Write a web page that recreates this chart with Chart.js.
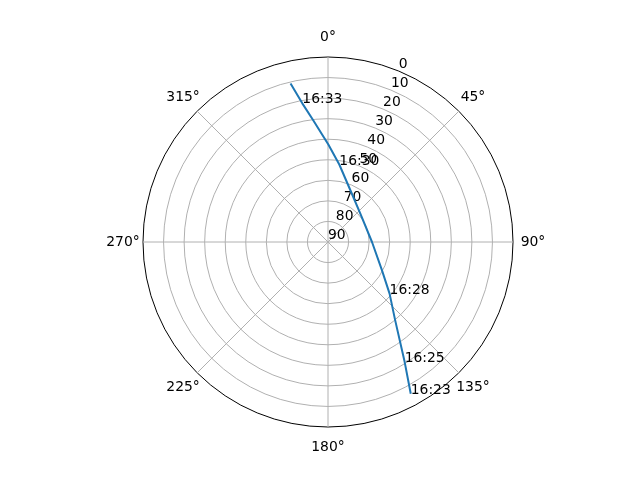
<!DOCTYPE html>
<html>
<head>
<meta charset="utf-8">
<script src="https://cdn.jsdelivr.net/npm/chart.js@4"></script>
<style>
  body { margin: 0; background: #fff; }
</style>
</head>
<body>
<canvas id="grafico" width="640" height="480"></canvas>
<script>
//Etiquetas de azimut (una linea radial cada 45 grados)
const ANGULOS = ['0°', '45°', '90°', '135°', '180°', '225°', '270°', '315°']

//Trayectoria del pase, en orden de tiempo: azimut (grados) y elevacion (grados)
const azimut = [151.4, 147.4, 139.2, 130.0, 117.2, 90.0, 50.0, 22.8, 8.3, 0.2, 352.9, 349.5, 346.7]
const elevacion = [5.9, 20.8, 40.1, 50.9, 60.6, 68.6, 69.2, 62.3, 51.9, 42.6, 29.9, 21.4, 10.8]

//Horas anotadas y el indice del punto de la trayectoria donde van
const horas = ['16:23', '16:25', '16:28', '16:30', '16:33']
const horaIndice = [0, 1, 3, 8, 11]

//Marcas del eje radial (elevacion, 0 afuera y 90 en el centro)
const marcasElevacion = [0, 10, 20, 30, 40, 50, 60, 70, 80, 90]

const FUENTE = '13.9px "DejaVu Sans"'

//Plugin que dibuja la trayectoria y los textos usando la escala radial del grafico
const trayectoria = {
    id: 'trayectoria',
    afterDraw(chart) {
        const r = chart.scales.r, ctx = chart.ctx
        const paso = 360 / chart.data.labels.length
        //el eje va invertido: elevacion 90 en el centro
        const pos = (az, el) => r.getPointPosition(az / paso, r.getDistanceFromCenterForValue(90 - el))

        ctx.save()
        ctx.font = FUENTE
        ctx.fillStyle = '#000'

        //etiquetas del eje radial a 22.5 grados
        ctx.textAlign = 'left'
        ctx.textBaseline = 'bottom'
        for (let i = 0; i < marcasElevacion.length; i++) {
            let p = pos(22.5, marcasElevacion[i])
            ctx.fillText(String(marcasElevacion[i]), p.x, p.y)
        }

        //etiquetas de azimut fuera del circulo
        ctx.textAlign = 'center'
        ctx.textBaseline = 'middle'
        for (let i = 0; i < chart.data.labels.length; i++) {
            let p = r.getPointPosition(i, r.drawingArea + 20)
            ctx.fillText(chart.data.labels[i], p.x, p.y)
        }

        //linea de la trayectoria
        ctx.strokeStyle = '#1f77b4'
        ctx.lineWidth = 2
        ctx.lineJoin = 'round'
        ctx.beginPath()
        for (let i = 0; i < azimut.length; i++) {
            let p = pos(azimut[i], elevacion[i])
            if (i === 0) ctx.moveTo(p.x, p.y)
            else ctx.lineTo(p.x, p.y)
        }
        ctx.stroke()

        //horas sobre la trayectoria
        ctx.textAlign = 'left'
        ctx.textBaseline = 'alphabetic'
        for (let i = 0; i < horas.length; i++) {
            let k = horaIndice[i]
            let p = pos(azimut[k], elevacion[k])
            ctx.fillText(horas[i], p.x, p.y)
        }
        ctx.restore()
    }
}

new Chart(document.getElementById('grafico'), {
    type: 'radar',
    data: {
        labels: ANGULOS,
        datasets: [{
            data: ANGULOS.map(() => null),
            pointRadius: 0,
            borderWidth: 0
        }]
    },
    options: {
        responsive: false,
        animation: false,
        layout: { padding: { top: 57, bottom: 53, left: 16, right: 0 } },
        plugins: { legend: { display: false }, tooltip: { enabled: false } },
        scales: {
            r: {
                min: 0,
                max: 90,
                startAngle: 0,
                ticks: { stepSize: 10, display: false },
                grid: {
                    circular: true,
                    color: (c) => c.tick && c.tick.value === 90 ? '#000' : '#b0b0b0',
                    lineWidth: 1
                },
                angleLines: { color: '#b0b0b0', lineWidth: 1 },
                pointLabels: { display: false }
            }
        }
    },
    plugins: [trayectoria]
})
</script>
</body>
</html>
